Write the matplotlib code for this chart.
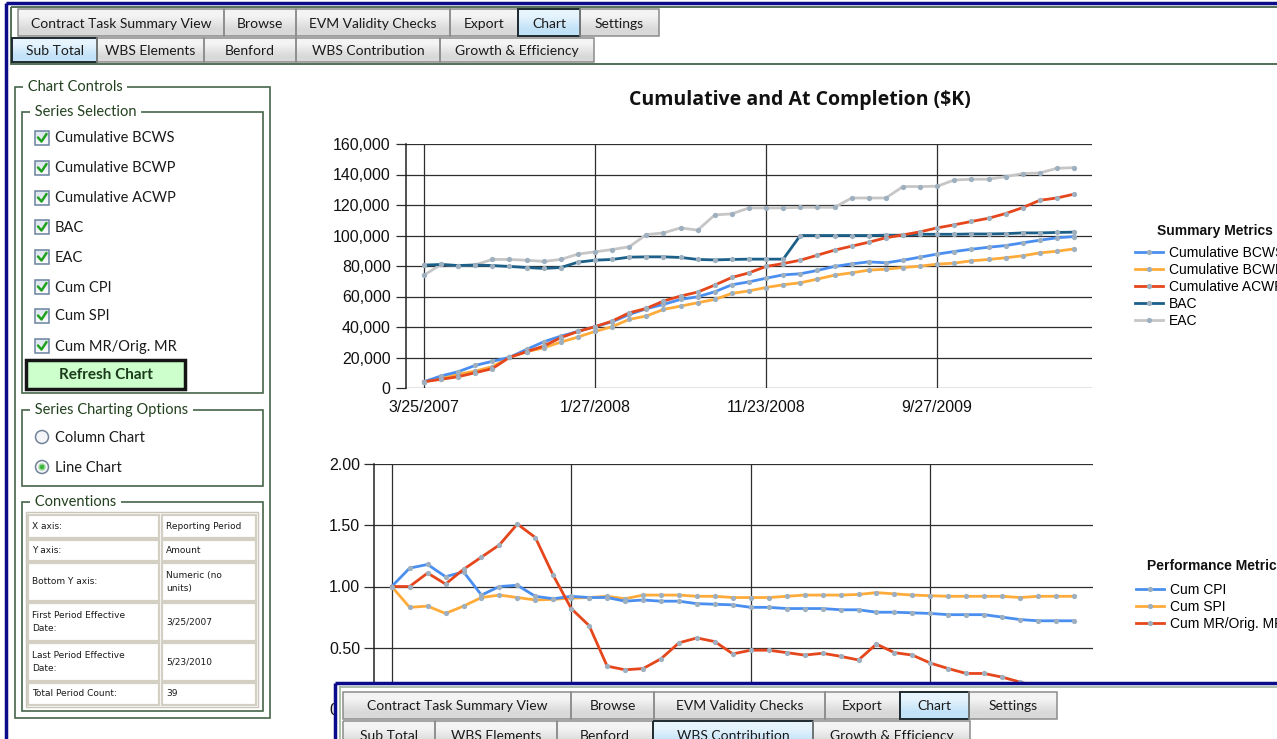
import numpy as np
import matplotlib
matplotlib.use("Agg")
import matplotlib.pyplot as plt
from matplotlib.patches import Rectangle, Circle
from matplotlib.ticker import FuncFormatter

# ---- data (39 reporting periods) ----
n_periods = 39
date_ticks = [0, 10, 20, 30]
date_labels = ['3/25/2007', '1/27/2008', '11/23/2008', '9/27/2009']

bcws = [4100, 7900, 10700, 14800, 17500, 20100, 25300, 30300, 34000, 37100,
        40200, 43400, 48200, 52000, 54800, 58100, 59800, 63100, 67700, 69600,
        72000, 74200, 74900, 77100, 79700, 81400, 82700, 82100, 83800, 85800,
        87800, 89500, 91000, 92300, 93400, 95200, 96900, 98500, 99300]
bcwp = [4100, 6100, 9000, 11100, 14000, 20100, 23800, 26400, 30100, 33400,
        37100, 40200, 45000, 47200, 51500, 53700, 55900, 58100, 62000, 63700,
        65900, 67700, 69000, 71400, 74000, 75500, 77300, 77900, 79000, 79900,
        81200, 81900, 83400, 84300, 85400, 86700, 88600, 89700, 91200]
acwp = [4100, 5700, 7400, 10000, 12700, 20100, 23800, 27500, 33000, 37100,
        40200, 43900, 49300, 52200, 57000, 60300, 62900, 67500, 72500, 75500,
        79700, 81600, 83800, 87100, 90400, 93000, 95600, 98500, 100400, 102400,
        105000, 107000, 109200, 111300, 114400, 118300, 123100, 124600, 127100]
bac = [80600, 81000, 80300, 80600, 80300, 79700, 79000, 78400, 79000, 82500,
       83800, 84300, 85800, 86000, 86000, 85600, 84300, 84000, 84300, 84500,
       84500, 84500, 100000, 100000, 100000, 100000, 100000, 100200, 100200, 100800,
       100800, 100800, 101000, 101000, 101200, 101700, 101700, 102000, 102200]
eac = [74000, 81000, 80300, 80800, 84300, 84300, 83800, 83000, 84300, 87800,
       89300, 90800, 92600, 100600, 101700, 105000, 103500, 113500, 114200, 118100,
       118100, 118100, 118500, 118500, 118500, 124600, 124600, 124600, 132100, 132100,
       132300, 136400, 136900, 136900, 138600, 140600, 141000, 144100, 144500]

cum_cpi = [1.00, 1.15, 1.18, 1.08, 1.12, 0.93, 1.00, 1.01, 0.92, 0.90,
           0.92, 0.91, 0.91, 0.88, 0.89, 0.88, 0.88, 0.86, 0.855, 0.85,
           0.83, 0.83, 0.82, 0.82, 0.82, 0.81, 0.81, 0.79, 0.79, 0.785,
           0.78, 0.77, 0.77, 0.77, 0.75, 0.73, 0.72, 0.72, 0.72]
cum_spi = [1.00, 0.83, 0.84, 0.78, 0.84, 0.91, 0.93, 0.91, 0.89, 0.895,
           0.905, 0.91, 0.92, 0.90, 0.93, 0.93, 0.93, 0.92, 0.92, 0.91,
           0.91, 0.91, 0.92, 0.93, 0.93, 0.93, 0.935, 0.95, 0.94, 0.93,
           0.925, 0.92, 0.92, 0.92, 0.92, 0.91, 0.92, 0.92, 0.92]
cum_mr = [1.00, 1.00, 1.11, 1.02, 1.14, 1.24, 1.34, 1.51, 1.40, 1.09,
          0.82, 0.68, 0.35, 0.32, 0.33, 0.41, 0.54, 0.58, 0.55, 0.45,
          0.48, 0.48, 0.46, 0.44, 0.455, 0.43, 0.40, 0.53, 0.46, 0.44,
          0.375, 0.33, 0.29, 0.29, 0.26, 0.22, 0.18, 0.15, 0.12]

series_checks = ['Cumulative BCWS', 'Cumulative BCWP', 'Cumulative ACWP', 'BAC',
                 'EAC', 'Cum CPI', 'Cum SPI', 'Cum MR/Orig. MR']
conventions = [('X axis:', 'Reporting Period'), ('Y axis:', 'Amount'),
               ('Bottom Y axis:', 'Numeric (no\nunits)'),
               ('First Period Effective\nDate:', '3/25/2007'),
               ('Last Period Effective\nDate:', '5/23/2010'),
               ('Total Period Count:', '39')]
tabs_top = ['Contract Task Summary View', 'Browse', 'EVM Validity Checks',
            'Export', 'Chart', 'Settings']
tabs_sub = ['Sub Total', 'WBS Elements', 'Benford', 'WBS Contribution',
            'Growth & Efficiency']

W, H = 1277, 739
UI = ['Lato', 'DejaVu Sans']
ARIAL = ['Liberation Sans', 'DejaVu Sans']
GREEN = '#46654a'

fig = plt.figure(figsize=(W / 100, H / 100), dpi=100)
fig.patch.set_facecolor('white')


def px_axes(x0, y0, x1, y1, **kw):
    return fig.add_axes([x0 / W, 1 - y1 / H, (x1 - x0) / W, (y1 - y0) / H], **kw)


def pixel_layer(z):
    a = fig.add_axes([0, 0, 1, 1], zorder=z)
    a.set_xlim(0, W)
    a.set_ylim(H, 0)
    a.patch.set_alpha(0)
    a.axis('off')
    return a


def grad_box(a, x0, y0, x1, y1, top, bottom, edge, lw=1.0):
    img = np.array([[matplotlib.colors.to_rgb(top)], [matplotlib.colors.to_rgb(bottom)]])
    a.imshow(img, extent=(x0, x1, y1, y0), origin='upper', aspect='auto',
             interpolation='bilinear', zorder=1)
    a.add_patch(Rectangle((x0, y0), x1 - x0, y1 - y0, fill=False, edgecolor=edge,
                          lw=lw, zorder=2))


def tab_row(a, edges, labels, y0, y1, selected):
    for i, lab in enumerate(labels):
        x0, x1 = edges[i], edges[i + 1]
        if lab == selected:
            grad_box(a, x0, y0, x1, y1, '#e6f4fd', '#c2e2f7', '#1e2a30', 1.4)
        else:
            grad_box(a, x0, y0, x1, y1, '#f4f4f4', '#d9d9d9', '#8c8c8c', 1.1)
        a.text((x0 + x1) / 2, (y0 + y1) / 2 + 1, lab, ha='center', va='center',
               fontsize=10, family=UI, color='#1a1a1a', zorder=3)


def group_box(a, x0, y0, x1, y1, title):
    a.add_patch(Rectangle((x0, y0), x1 - x0, y1 - y0, fill=False,
                          edgecolor=GREEN, lw=1.2))
    a.text(x0 + 9, y0, ' ' + title + ' ', ha='left', va='center', fontsize=10.5,
           family=UI, color='#23421f',
           bbox=dict(facecolor='white', edgecolor='none', pad=0.5))


ui = pixel_layer(0)

# window frame
ui.plot([6, 6], [3, H], color='#0c0c8a', lw=2.5, solid_capstyle='butt')
ui.plot([6, W], [3, 3], color='#0c0c8a', lw=2.5, solid_capstyle='butt')
ui.add_patch(Rectangle((11, 7), W, 57, fill=False, edgecolor=GREEN, lw=1.3))

tab_row(ui, [18, 224, 296, 450, 518, 580, 659], tabs_top, 9, 36, 'Chart')
tab_row(ui, [12, 97, 204, 296, 440, 594], tabs_sub, 38, 62, 'Sub Total')

# left control panel
group_box(ui, 15, 87, 270, 718, 'Chart Controls')
group_box(ui, 22, 112, 263, 393, 'Series Selection')
for i, lab in enumerate(series_checks):
    yc = [138, 168, 198, 227, 257, 287, 316, 346][i]
    grad_box(ui, 35, yc - 7, 49, yc + 7, '#dfe6ee', '#f7f9fb', '#6b82a0', 1.1)
    ui.plot([38, 41.5, 46.5], [yc - 0.5, yc + 3.5, yc - 4], color='#21a121', lw=1.8,
            zorder=3, solid_capstyle='round', solid_joinstyle='round')
    ui.text(55, yc + 0.5, lab, ha='left', va='center', fontsize=10.5, family=UI,
            color='#1a1a1a')
ui.add_patch(Rectangle((26, 360), 159, 29, facecolor='#ccffcc', edgecolor='#151515',
                       lw=2.5))
ui.text(105.5, 375, 'Refresh Chart', ha='center', va='center', fontsize=11,
        fontweight='bold', family=UI, color='#1c3a1c')

group_box(ui, 22, 410, 263, 486, 'Series Charting Options')
for yc, lab, sel in [(437, 'Column Chart', False), (467, 'Line Chart', True)]:
    ui.add_patch(Circle((42, yc), 6.5, facecolor='#f3f5f8', edgecolor='#72839a', lw=1.1))
    if sel:
        ui.add_patch(Circle((42, yc), 3.0, facecolor='#3cb53c', edgecolor='#9ad99a', lw=1))
    ui.text(55, yc + 0.5, lab, ha='left', va='center', fontsize=10.5, family=UI,
            color='#1a1a1a')

group_box(ui, 22, 502, 263, 711, 'Conventions')
ui.add_patch(Rectangle((26, 512), 232, 195, fill=False, edgecolor='#c9c5b8', lw=1))
rows = [(515, 538), (540, 561), (563, 601), (603, 641), (643, 681), (683, 705)]
for (y0, y1), (k, v) in zip(rows, conventions):
    for x0, x1, txt in [(28, 159, k), (162, 256, v)]:
        ui.add_patch(Rectangle((x0, y0), x1 - x0, y1 - y0, facecolor='white',
                               edgecolor='#d3cfc2', lw=1.6))
        ui.text(x0 + 4, (y0 + y1) / 2, txt, ha='left', va='center', fontsize=6.5,
                family=['DejaVu Sans'], color='#1a1a1a', linespacing=1.7)

# title of upper chart and legend headings
ui.text(800, 100, 'Cumulative and At Completion ($K)', ha='center', va='center',
        fontsize=14, fontweight='bold', family=['Open Sans', 'DejaVu Sans'],
        color='#111111')
ui.text(1215, 231, 'Summary Metrics', ha='center', va='center', fontsize=10,
        fontweight='bold', family=ARIAL, color='#111111')
ui.text(1216, 566, 'Performance Metrics', ha='center', va='center', fontsize=10,
        fontweight='bold', family=ARIAL, color='#111111')

marker_kw = dict(marker='o', markersize=3.8, markerfacecolor='#9eb0bf',
                 markeredgecolor='none', lw=2.0)
x = np.arange(n_periods)


def style_chart(ax, pad_y):
    for s in ['top', 'right', 'bottom']:
        ax.spines[s].set_visible(False)
    ax.spines['left'].set_color('#222222')
    ax.spines['left'].set_linewidth(1.1)
    ax.set_xticks(date_ticks)
    ax.grid(True, color='#2e2e2e', lw=0.9)
    ax.set_axisbelow(True)
    ax.tick_params(axis='y', length=7, width=0.9, color='#2e2e2e', pad=pad_y,
                   labelsize=11.5, labelcolor='#111111')
    ax.tick_params(axis='x', length=0, pad=9, labelsize=11.5, labelcolor='#111111')
    for t in ax.get_xticklabels() + ax.get_yticklabels():
        t.set_family(ARIAL)


# upper chart
ax1 = px_axes(406, 144, 1092, 388)
ax1.patch.set_alpha(0)
l_eac, = ax1.plot(x, eac, color='#c6c6c6', label='EAC', **marker_kw)
l_bac, = ax1.plot(x, bac, color='#1c5f88', label='BAC', **marker_kw)
l_bcwp, = ax1.plot(x, bcwp, color='#ffab3a', label='Cumulative BCWP', **marker_kw)
l_bcws, = ax1.plot(x, bcws, color='#4a8ff0', label='Cumulative BCWS', **marker_kw)
l_acwp, = ax1.plot(x, acwp, color='#e5461b', label='Cumulative ACWP', **marker_kw)
ax1.set_xlim(-1.05, 39.05)
ax1.set_ylim(0, 160000)
ax1.set_yticks(np.arange(0, 160001, 20000))
ax1.yaxis.set_major_formatter(FuncFormatter(lambda v, p: f'{v:,.0f}'))
ax1.set_xticklabels(date_labels)
style_chart(ax1, 4)

leg_kw = dict(loc='upper left', bbox_transform=fig.transFigure, frameon=False,
              borderpad=0, labelspacing=0.22, handlelength=2.0, handletextpad=0.45,
              prop=dict(family=ARIAL, size=10))
ax1.legend(handles=[l_bcws, l_bcwp, l_acwp, l_bac, l_eac],
           bbox_to_anchor=(1128 / W, 1 - 239 / H), **leg_kw)

# lower chart
ax2 = px_axes(374, 464, 1093, 709)
ax2.patch.set_alpha(0)
l_spi, = ax2.plot(x, cum_spi, color='#ffab3a', label='Cum SPI', **marker_kw)
l_cpi, = ax2.plot(x, cum_cpi, color='#4a8ff0', label='Cum CPI', **marker_kw)
l_mr, = ax2.plot(x, cum_mr, color='#e5461b', label='Cum MR/Orig. MR', **marker_kw)
ax2.set_xlim(-0.985, 39.06)
ax2.set_ylim(0, 2)
ax2.set_yticks([0, 0.5, 1.0, 1.5, 2.0])
ax2.yaxis.set_major_formatter(FuncFormatter(lambda v, p: f'{v:.2f}'))
ax2.set_xticklabels([])
style_chart(ax2, 3)

ax2.legend(handles=[l_cpi, l_spi, l_mr],
           bbox_to_anchor=(1129 / W, 1 - 576 / H), **leg_kw)

# second copy of the tab strip overlapping the bottom of the page
ov = pixel_layer(10)
ov.add_patch(Rectangle((335, 683), W, 60, facecolor='white', edgecolor='none'))
ov.plot([335, W], [683, 683], color='#0c0c8a', lw=2.5, solid_capstyle='butt')
ov.plot([335, 335], [683, H], color='#0c0c8a', lw=2.5, solid_capstyle='butt')
ov.plot([340, W], [687, 687], color='#9fb49f', lw=1.2)
ov.plot([340, 340], [687, H], color='#9fb49f', lw=1.2)
tab_row(ov, [343, 571, 654, 825, 900, 969, 1057], tabs_top, 692, 719, 'Chart')
tab_row(ov, [343, 435, 557, 653, 813, 970], tabs_sub, 721, 749, 'WBS Contribution')
ov.set_xlim(0, W)
ov.set_ylim(H, 0)
ui.set_xlim(0, W)
ui.set_ylim(H, 0)

fig.savefig('out.png', dpi=100)
